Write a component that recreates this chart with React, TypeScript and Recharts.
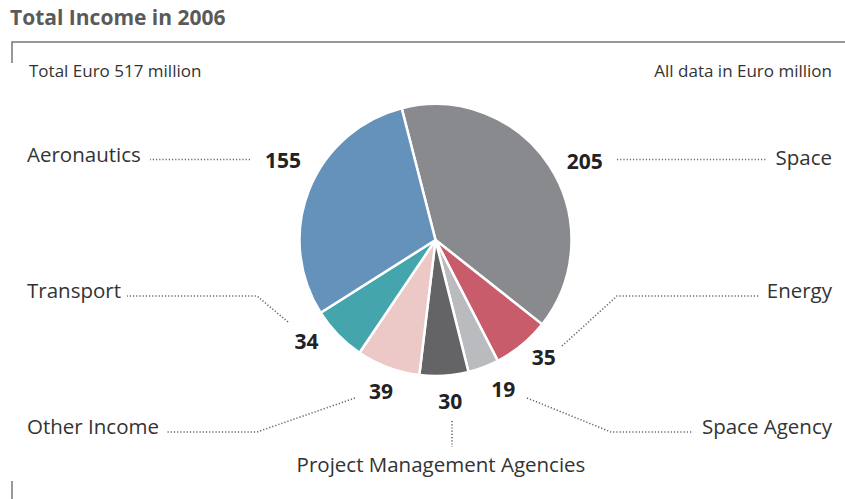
import { PieChart, Pie, Cell } from "recharts";

const categories = ["Space", "Energy", "Space Agency", "Project Management Agencies", "Other Income", "Transport", "Aeronautics"];
const values = [205, 35, 19, 30, 39, 34, 155];
const colors = ["#898a8e", "#c95c6a", "#babbbf", "#646466", "#ecc9c6", "#44a5ad", "#6592bb"];

// layout for the callouts (name text + dotted leader), same order as categories
const callouts = [
  { anchor: "end", x: 832, y: 165, path: [[617, 159.5], [767, 159.5]], angleNudge: 5, r: 169 },
  { anchor: "end", x: 832, y: 298, path: [[562, 346], [617, 296], [760, 296]], angleNudge: -3.4, r: 159 },
  { anchor: "end", x: 832, y: 434, path: [[527, 398], [611, 432], [693, 432]], angleNudge: -3.7, r: 164 },
  { anchor: "middle", x: 441, y: 472, path: [[452, 421], [452, 447]], angleNudge: -1.6, r: 162 },
  { anchor: "start", x: 27, y: 434, path: [[355, 398], [257, 432], [167, 432]], angleNudge: -0.6, r: 161 },
  { anchor: "start", x: 27, y: 298, path: [[288, 322], [257, 296], [127, 296]], angleNudge: 6, r: 164 },
  { anchor: "start", x: 27, y: 162, path: [[250, 159.5], [150, 159.5]], angleNudge: 6, r: 172 },
];

const data = categories.map((name, i) => ({ name, value: values[i] }));

const FONT = "'Open Sans', 'Noto Sans', sans-serif";
const RADIAN = Math.PI / 180;

const renderLabel = (props: any) => {
  const { cx, cy, midAngle, index, value, name } = props;
  const c = callouts[index];
  const a = (midAngle - c.angleNudge) * RADIAN;
  const x = cx + c.r * Math.cos(a);
  const y = cy - c.r * Math.sin(a);
  return (
    <g key={`lbl-${index}`}>
      <text x={x} y={y} textAnchor="middle" dominantBaseline="central" fontFamily={FONT} fontWeight={700} fontSize={21} fill="#222">
        {value}
      </text>
      <polyline
        points={c.path.map((p) => p.join(",")).join(" ")}
        fill="none"
        stroke="#666"
        strokeWidth={1.6}
        strokeDasharray="1.2 2"
      />
      <text x={c.x} y={c.y} textAnchor={c.anchor as any} fontFamily={FONT} fontSize={20.5} fill="#333">
        {name}
      </text>
    </g>
  );
};

export default function App() {
  return (
    <div style={{ position: "absolute", left: 0, top: 0, width: 845, height: 499, background: "#fff" }}>
      <svg width={845} height={499} style={{ position: "absolute", left: 0, top: 0 }}>
        <text x={10} y={25} fontFamily={FONT} fontWeight={700} fontSize={21} fill="#5a5a5a">
          Total Income in 2006
        </text>
        <polyline points="12,63 12,42 845,42" fill="none" stroke="#777" strokeWidth={1.5} />
        <line x1={12} y1={481} x2={12} y2={499} stroke="#777" strokeWidth={1.5} />
        <text x={29} y={77} fontFamily={FONT} fontSize={17} fill="#333">
          Total Euro 517 million
        </text>
        <text x={832} y={77} textAnchor="end" fontFamily={FONT} fontSize={17} fill="#333">
          All data in Euro million
        </text>
      </svg>
      <div style={{ position: "absolute", left: 0, top: 0 }}>
        <PieChart width={845} height={499} margin={{ top: 0, right: 0, bottom: 0, left: 0 }}>
          <Pie
            data={data}
            dataKey="value"
            nameKey="name"
            cx={435.5}
            cy={240}
            outerRadius={136}
            startAngle={104.4}
            endAngle={-255.6}
            stroke="#fff"
            strokeWidth={2.5}
            label={renderLabel}
            labelLine={false}
            isAnimationActive={false}
          >
            {data.map((_, i) => (
              <Cell key={i} fill={colors[i]} />
            ))}
          </Pie>
        </PieChart>
      </div>
    </div>
  );
}
